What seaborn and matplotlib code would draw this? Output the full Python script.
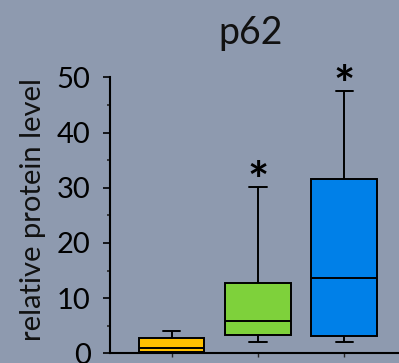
import numpy as np
import pandas as pd
import seaborn as sns
import matplotlib
matplotlib.use("Agg")
import matplotlib.pyplot as plt
from matplotlib.ticker import MultipleLocator

# Five-number summaries per group: min, Q1, median, Q3, max
groups = ["A", "B", "C"]
yellow_vals = [0.1, 0.3, 1.0, 2.8, 4.0]
green_vals = [2.0, 3.4, 5.9, 12.7, 30.1]
blue_vals = [2.0, 3.1, 13.6, 31.6, 47.6]
significant = [False, True, True]
colors = ["#FFC000", "#7ED13B", "#0080E8"]
bg = "#8E9AAF"

df = pd.DataFrame({
    "group": np.repeat(groups, 5),
    "value": yellow_vals + green_vals + blue_vals,
})

sns.set_style("ticks")
plt.rcParams["font.family"] = ["Lato", "DejaVu Sans"]

fig = plt.figure(figsize=(3.99, 3.63), dpi=100, facecolor=bg)
ax = fig.add_axes([110 / 399, 1 - 353.3 / 363, 1 - 110 / 399, (353.3 - 77.3) / 363])
ax.set_facecolor(bg)

sns.boxplot(
    data=df, x="group", y="value", hue="group", palette=colors,
    saturation=1, width=0.76, whis=(0, 100), linecolor="black",
    linewidth=1.4, legend=False, capwidths=0.2, ax=ax,
)

ax.set_ylim(0, 50)
ax.set_xlim(-0.715, 2.634)
ax.yaxis.set_major_locator(MultipleLocator(10))
ax.yaxis.set_minor_locator(MultipleLocator(5))
ax.tick_params(axis="y", which="major", length=5, width=1.2, labelsize=21, pad=9, colors="black")
ax.tick_params(axis="y", which="minor", length=2.5, width=1.2)
ax.tick_params(axis="x", length=3, width=1.0, labelbottom=False)
for s in ["top", "right"]:
    ax.spines[s].set_visible(False)
for s in ["left", "bottom"]:
    ax.spines[s].set_linewidth(1.5)
    ax.spines[s].set_color("black")

ax.set_xlabel("")
ax.set_ylabel("relative protein level", fontsize=21, color="#111111")
ax.yaxis.set_label_coords(-0.222, 0.52)
ax.set_title("p62", fontsize=27, pad=24, x=0.486, color="#111111")

all_vals = [yellow_vals, green_vals, blue_vals]
for i, (vals, sig) in enumerate(zip(all_vals, significant)):
    if sig:
        ax.text(i, max(vals) - 2.0, "*", ha="center", va="baseline",
                fontsize=36, fontweight="bold", color="black", clip_on=False)

fig.savefig("out.png", dpi=100, facecolor=bg)
